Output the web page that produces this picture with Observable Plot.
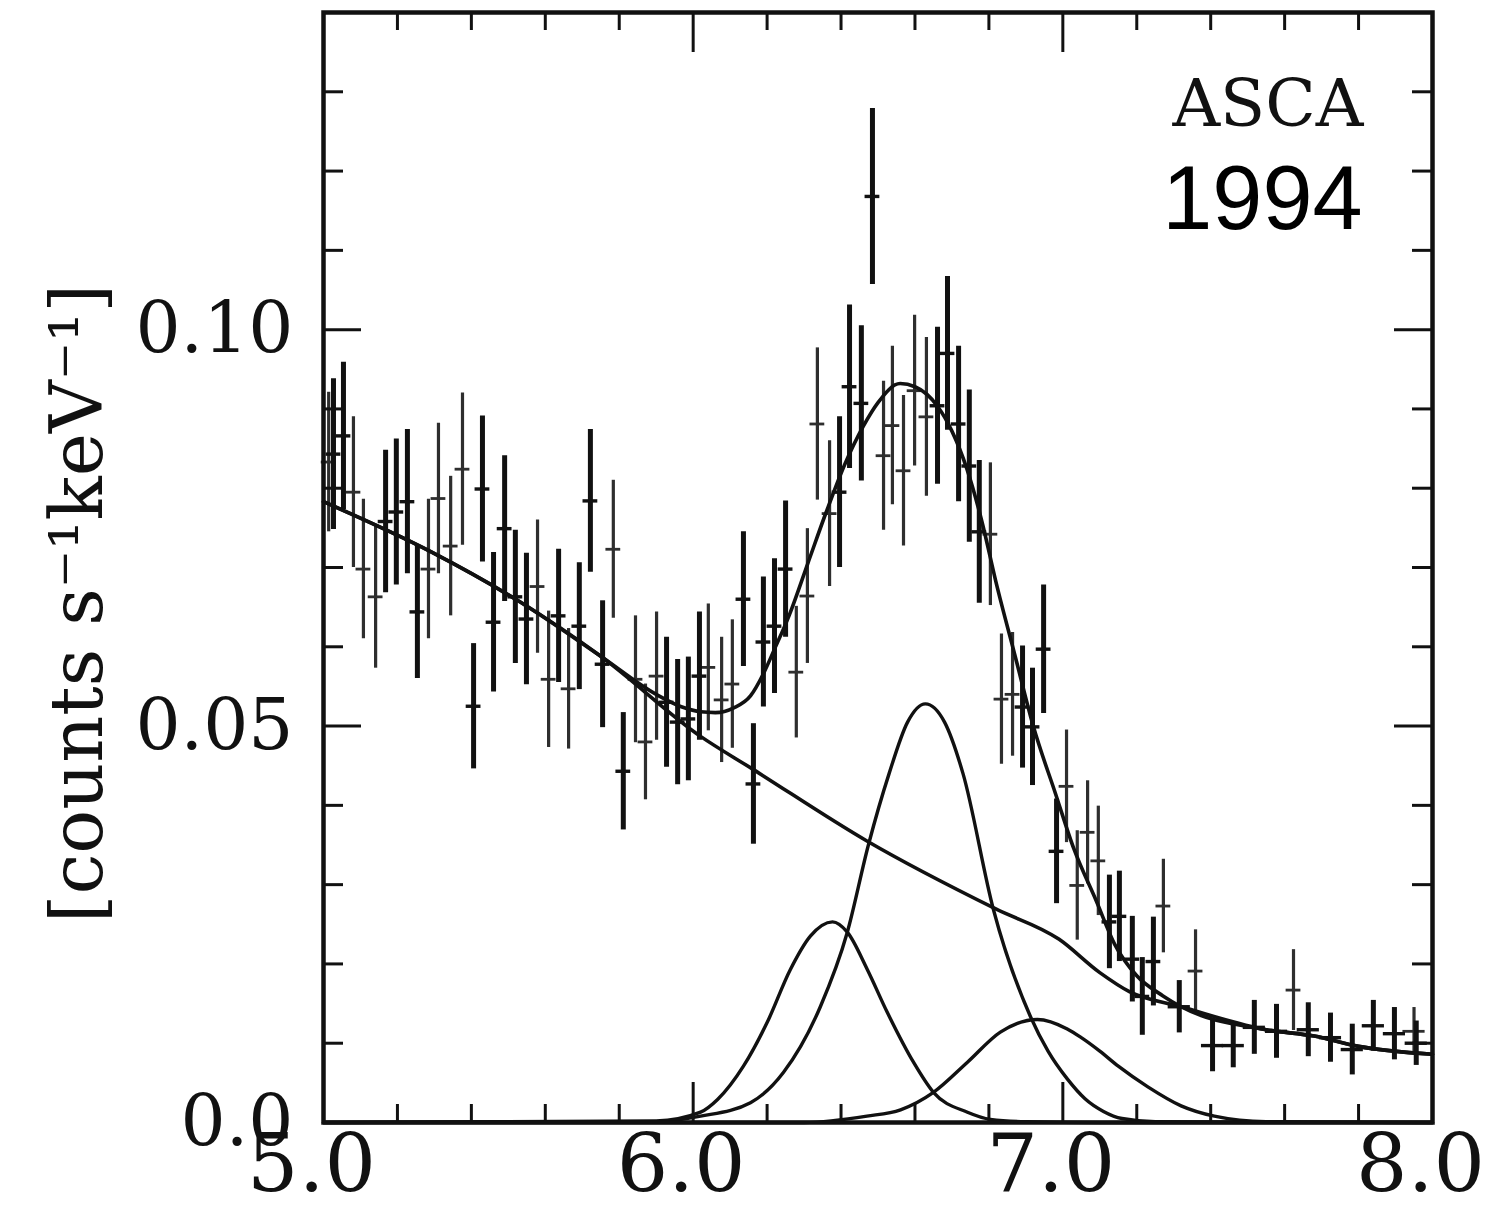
<!DOCTYPE html>
<html><head><meta charset="utf-8">
<script src="https://cdn.jsdelivr.net/npm/d3@7"></script>
<script src="https://cdn.jsdelivr.net/npm/@observablehq/plot@0.6"></script>
<style>body{margin:0;background:#fff}</style>
</head><body><div id="chart"></div>
<script>
// ---- observed spectrum, dark series ----
const energyA = [5.027,5.054,5.168,5.197,5.227,5.254,5.406,5.430,5.460,5.490,5.519,5.549,5.636,5.692,5.722,5.755,5.811,5.928,5.958,5.987,6.017,6.136,6.163,6.190,6.220,6.250,6.396,6.423,6.455,6.485,6.661,6.688,6.718,6.747,6.774,6.891,6.918,6.948,6.983,7.126,7.153,7.188,7.215,7.245,7.315,7.405,7.461,7.518,7.578,7.664,7.724,7.783,7.840,7.897,7.956];
const rateA = [0.0843,0.0866,0.0758,0.0770,0.0783,0.0644,0.0525,0.0799,0.0631,0.0749,0.0663,0.0635,0.0639,0.0626,0.0784,0.0578,0.0443,0.0530,0.0505,0.0509,0.0563,0.0660,0.0427,0.0606,0.0626,0.0698,0.0795,0.0928,0.0907,0.1168,0.0904,0.0970,0.0881,0.0828,0.0745,0.0524,0.0499,0.0597,0.0342,0.0253,0.0260,0.0206,0.0159,0.0203,0.0146,0.0097,0.0097,0.0120,0.0115,0.0117,0.0107,0.0092,0.0122,0.0112,0.0100];
const errA = [0.0095,0.0093,0.0090,0.0092,0.0091,0.0084,0.0079,0.0092,0.0088,0.0092,0.0084,0.0083,0.0084,0.0080,0.0090,0.0080,0.0074,0.0082,0.0079,0.0078,0.0081,0.0085,0.0076,0.0082,0.0085,0.0086,0.0095,0.0103,0.0098,0.0111,0.0099,0.0097,0.0098,0.0096,0.0090,0.0077,0.0074,0.0081,0.0066,0.0059,0.0057,0.0054,0.0049,0.0056,0.0033,0.0033,0.0028,0.0034,0.0034,0.0034,0.0031,0.0032,0.0032,0.0033,0.0028];
const binA = [0.02,0.02,0.02,0.02,0.02,0.02,0.02,0.02,0.02,0.02,0.02,0.02,0.02,0.02,0.02,0.02,0.02,0.02,0.02,0.02,0.02,0.02,0.02,0.02,0.02,0.02,0.02,0.02,0.02,0.02,0.02,0.02,0.02,0.02,0.02,0.02,0.02,0.02,0.02,0.02,0.02,0.02,0.02,0.02,0.03,0.03,0.03,0.03,0.03,0.03,0.03,0.03,0.03,0.03,0.03];

// ---- observed spectrum, grey series ----
const energyB = [5.014,5.081,5.108,5.141,5.284,5.311,5.344,5.376,5.579,5.609,5.663,5.784,5.844,5.871,5.901,6.041,6.077,6.106,6.279,6.309,6.336,6.369,6.515,6.539,6.569,6.599,6.631,6.804,6.834,6.864,7.010,7.039,7.067,7.096,7.272,7.359,7.624,7.950];
const rateB = [0.0833,0.0795,0.0698,0.0663,0.0698,0.0787,0.0727,0.0824,0.0676,0.0559,0.0547,0.0723,0.0559,0.0480,0.0563,0.0574,0.0533,0.0553,0.0568,0.0664,0.0881,0.0768,0.0841,0.0879,0.0822,0.0923,0.0890,0.0742,0.0534,0.0540,0.0424,0.0299,0.0366,0.0330,0.0273,0.0191,0.0167,0.0115];
const errB = [0.0088,0.0095,0.0088,0.0090,0.0088,0.0095,0.0088,0.0096,0.0084,0.0086,0.0076,0.0087,0.0080,0.0073,0.0081,0.0080,0.0079,0.0081,0.0083,0.0085,0.0096,0.0092,0.0094,0.0100,0.0095,0.0095,0.0100,0.0090,0.0082,0.0078,0.0071,0.0069,0.0065,0.0069,0.0059,0.0052,0.0051,0.0030];
const binB = [0.02,0.02,0.02,0.02,0.02,0.02,0.02,0.02,0.02,0.02,0.02,0.02,0.02,0.02,0.02,0.02,0.02,0.02,0.02,0.02,0.02,0.02,0.02,0.02,0.02,0.02,0.02,0.02,0.02,0.02,0.02,0.02,0.02,0.02,0.02,0.02,0.02,0.03];

// ---- model curves ----
const totalE = [5.00,5.29,5.53,5.75,5.90,5.97,6.02,6.06,6.11,6.155,6.19,6.22,6.26,6.31,6.36,6.41,6.46,6.50,6.56,6.60,6.66,6.70,6.74,6.78,6.82,6.87,6.92,6.98,7.03,7.09,7.14,7.20,7.27,7.32,7.55,7.68,7.80,8.00];
const totalV = [0.0783,0.0720,0.0657,0.0588,0.0540,0.0524,0.0518,0.0517,0.0523,0.0538,0.0566,0.0597,0.0640,0.0705,0.0770,0.0830,0.0878,0.0908,0.0932,0.0928,0.0904,0.0872,0.0825,0.0760,0.0680,0.0590,0.0500,0.0415,0.0345,0.0280,0.0225,0.0185,0.0160,0.0146,0.0117,0.0109,0.0096,0.0086];
const contE = [5.00,5.29,5.53,5.75,6.02,6.16,6.47,6.82,6.99,7.10,7.18,7.32,7.55,7.68,7.80,8.00];
const contV = [0.0783,0.0720,0.0657,0.0588,0.0487,0.0446,0.0355,0.0269,0.0231,0.0189,0.0165,0.0146,0.0117,0.0109,0.0096,0.0086];
const line1E = [5.00,5.90,6.02,6.066,6.136,6.20,6.263,6.317,6.377,6.417,6.471,6.525,6.596,6.65,6.742,6.804,6.90,7.10,8.00];
const line1V = [0,0.0002,0.0013,0.0029,0.0071,0.0126,0.0193,0.0235,0.0253,0.0240,0.0193,0.0139,0.0076,0.0038,0.0013,0.0004,0.0001,0,0];
const line2E = [5.00,5.90,6.02,6.155,6.244,6.344,6.417,6.474,6.53,6.58,6.628,6.68,6.73,6.812,6.912,6.96,7.012,7.06,7.11,7.16,7.25,8.00];
const line2V = [0,0.0001,0.0008,0.0025,0.0063,0.0146,0.0240,0.0350,0.0440,0.0505,0.0528,0.0505,0.0440,0.0269,0.0134,0.0090,0.0055,0.0030,0.0014,0.0005,0.0001,0];
const line3E = [5.00,6.30,6.47,6.561,6.65,6.742,6.831,6.931,7.012,7.05,7.10,7.15,7.23,7.32,7.41,7.55,8.00];
const line3V = [0,0,0.0008,0.0016,0.0038,0.0076,0.0114,0.0130,0.0118,0.0107,0.0090,0.0071,0.0045,0.0021,0.0008,0.0001,0];

// ---- axes ----
const xLabelTicks = [5, 6, 7, 8];
const xLabels = ["5.0", "6.0", "7.0", "8.0"];
const yLabelTicks = [0, 0.05, 0.10];
const yLabels = ["0.0", "0.05", "0.10"];
const xMinor = [5.2,5.4,5.6,5.8,6.2,6.4,6.6,6.8,7.2,7.4,7.6,7.8];
const xMajor = [6, 7];
const yMinor = [0.01,0.02,0.03,0.04,0.06,0.07,0.08,0.09,0.11,0.12,0.13];
const yMajor = [0.05, 0.10];
const yTitle = "[counts s⁻¹keV⁻¹]";
const tag1 = "ASCA";
const tag2 = "1994";

const toRows = (E, V, Er, B) => E.map((e, i) => ({E: e, v: V[i], err: Er ? Er[i] : 0, hw: B ? B[i] : 0}));
const dataA = toRows(energyA, rateA, errA, binA);
const dataB = toRows(energyB, rateB, errB, binB);
const curve = (E, V) => E.map((e, i) => ({E: e, v: V[i]}));

const W = 1497, H = 1207, mL = 323, mR = 65, mT = 12, mB = 85;
const fw = W - mL - mR, fh = H - mT - mB;
const serif = "DejaVu Serif";

const chart = Plot.plot({
  width: W, height: H,
  marginLeft: mL, marginRight: mR, marginTop: mT, marginBottom: mB,
  x: {domain: [5, 8], axis: null},
  y: {domain: [0, 0.14], axis: null},
  style: {background: "#fff", color: "#111", overflow: "visible"},
  marks: [
    // grey data
    Plot.ruleX(dataB, {x: "E", y1: d => d.v - d.err, y2: d => d.v + d.err, stroke: "#2e2e2e", strokeWidth: 3.2}),
    Plot.ruleY(dataB, {y: "v", x1: d => d.E - d.hw, x2: d => d.E + d.hw, stroke: "#2e2e2e", strokeWidth: 2.8}),
    // dark data
    Plot.ruleX(dataA, {x: "E", y1: d => d.v - d.err, y2: d => d.v + d.err, stroke: "#111", strokeWidth: 5}),
    Plot.ruleY(dataA, {y: "v", x1: d => d.E - d.hw, x2: d => d.E + d.hw, stroke: "#111", strokeWidth: 3.4}),
    // model curves
    Plot.line(curve(contE, contV), {x: "E", y: "v", stroke: "#111", strokeWidth: 3.6, curve: "monotone-x"}),
    Plot.line(curve(line1E, line1V), {x: "E", y: "v", stroke: "#111", strokeWidth: 3.4, curve: "monotone-x"}),
    Plot.line(curve(line2E, line2V), {x: "E", y: "v", stroke: "#111", strokeWidth: 3.4, curve: "monotone-x"}),
    Plot.line(curve(line3E, line3V), {x: "E", y: "v", stroke: "#111", strokeWidth: 3.4, curve: "monotone-x"}),
    Plot.line(curve(totalE, totalV), {x: "E", y: "v", stroke: "#111", strokeWidth: 3.6, curve: "monotone-x"}),
    // inward ticks
    Plot.tickX(xMinor, {x: d => d, insetTop: fh - 18, stroke: "#111", strokeWidth: 3}),
    Plot.tickX(xMajor, {x: d => d, insetTop: fh - 40, stroke: "#111", strokeWidth: 3}),
    Plot.tickX(xMinor, {x: d => d, insetBottom: fh - 18, stroke: "#111", strokeWidth: 3}),
    Plot.tickX(xMajor, {x: d => d, insetBottom: fh - 40, stroke: "#111", strokeWidth: 3}),
    Plot.tickY(yMinor, {y: d => d, insetRight: fw - 20, stroke: "#111", strokeWidth: 3}),
    Plot.tickY(yMajor, {y: d => d, insetRight: fw - 38, stroke: "#111", strokeWidth: 3}),
    Plot.tickY(yMinor, {y: d => d, insetLeft: fw - 20, stroke: "#111", strokeWidth: 3}),
    Plot.tickY(yMajor, {y: d => d, insetLeft: fw - 38, stroke: "#111", strokeWidth: 3}),
    Plot.frame({stroke: "#111", strokeWidth: 4.5}),
    // tick labels
    Plot.text(xLabelTicks, {x: d => d, text: d => xLabels[xLabelTicks.indexOf(d)], frameAnchor: "bottom", lineAnchor: "top", dy: 11, dx: -12, fontSize: 81, fontFamily: serif, fill: "#111"}),
    Plot.text(yLabelTicks, {y: d => d, text: d => yLabels[yLabelTicks.indexOf(d)], frameAnchor: "left", textAnchor: "end", dx: -30, fontSize: 71, fontFamily: serif, fill: "#111"}),
    // axis title
    Plot.text([yTitle], {text: d => d, frameAnchor: "left", textAnchor: "middle", lineAnchor: "middle", rotate: -90, dx: -245, dy: 36, fontSize: 73, fontFamily: serif, fill: "#111"}),
    // annotations
    Plot.text([tag1], {text: d => d, frameAnchor: "top-right", textAnchor: "end", lineAnchor: "bottom", dx: -69, dy: 113, fontSize: 66, fontFamily: serif, fill: "#111"}),
    Plot.text([tag2], {text: d => d, frameAnchor: "top-right", textAnchor: "end", lineAnchor: "bottom", dx: -70, dy: 216, fontSize: 90, fontFamily: "Liberation Sans", fill: "#000"})
  ]
});
document.getElementById("chart").appendChild(chart);
</script>
</body></html>
